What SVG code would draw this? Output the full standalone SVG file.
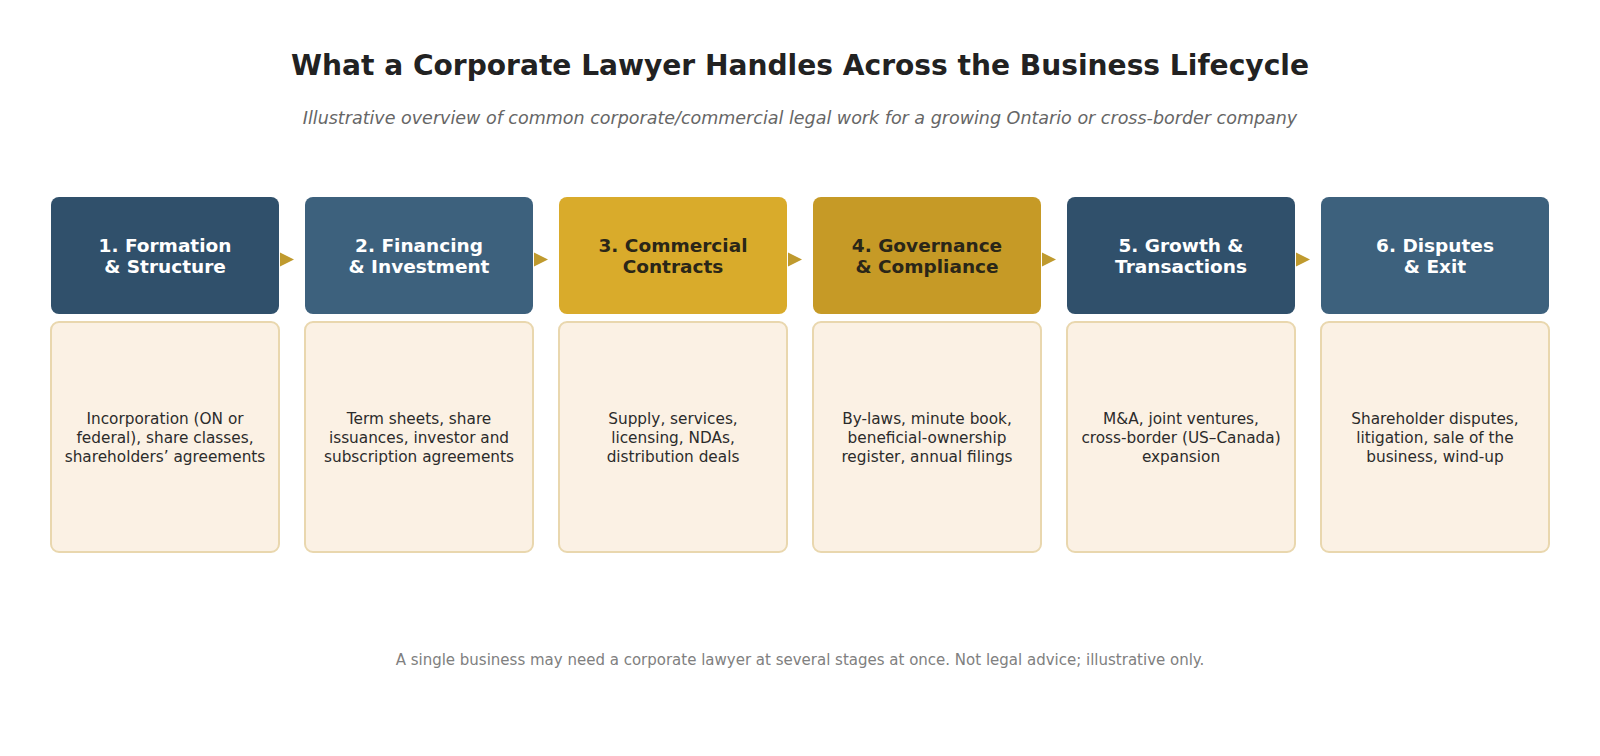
<svg xmlns="http://www.w3.org/2000/svg" width="1600" height="756" viewBox="0 0 1600 756">
<defs>
<style>
text{font-family:"DejaVu Sans","Liberation Sans",sans-serif;text-anchor:middle}
.title{font-size:28.1px;font-weight:bold;fill:#222222}
.sub{font-size:17.5px;font-style:italic;fill:#666666}
.foot{font-size:15px;fill:#808080}
.hd{font-size:18.5px;font-weight:bold}
.hw{fill:#ffffff}
.hk{fill:#2a2618}
.body{fill:#FBF1E4;stroke:#E9D7AE;stroke-width:2}
.bt{font-size:15.3px;fill:#2b2b2b}
.c1{fill:#30506B}
.c2{fill:#3D617D}
.c3{fill:#D9AB2B}
.c4{fill:#C69A26}
.arr{fill:#BF9A2E}
</style>
</defs>
<rect width="1600" height="756" fill="#ffffff"/>
<text class="title" x="800" y="75">What a Corporate Lawyer Handles Across the Business Lifecycle</text>
<text class="sub" x="800" y="124">Illustrative overview of common corporate/commercial legal work for a growing Ontario or cross-border company</text>

<g id="connectors">
<polygon class="arr" points="280,252.5 294,259.5 280,266.5"/>
<polygon class="arr" points="534,252.5 548,259.5 534,266.5"/>
<polygon class="arr" points="788,252.5 802,259.5 788,266.5"/>
<polygon class="arr" points="1042,252.5 1056,259.5 1042,266.5"/>
<polygon class="arr" points="1296,252.5 1310,259.5 1296,266.5"/>
</g>

<g id="stage1">
<rect class="c1" x="51" y="197" width="228" height="117" rx="8"/>
<text class="hd hw" x="165" y="251.5">1. Formation</text>
<text class="hd hw" x="165" y="273">&amp; Structure</text>
<rect class="body" x="51" y="322" width="228" height="230" rx="8"/>
<text class="bt" x="165" y="423.5">Incorporation (ON or</text>
<text class="bt" x="165" y="442.5">federal), share classes,</text>
<text class="bt" x="165" y="461.5">shareholders’ agreements</text>
</g>

<g id="stage2">
<rect class="c2" x="305" y="197" width="228" height="117" rx="8"/>
<text class="hd hw" x="419" y="251.5">2. Financing</text>
<text class="hd hw" x="419" y="273">&amp; Investment</text>
<rect class="body" x="305" y="322" width="228" height="230" rx="8"/>
<text class="bt" x="419" y="423.5">Term sheets, share</text>
<text class="bt" x="419" y="442.5">issuances, investor and</text>
<text class="bt" x="419" y="461.5">subscription agreements</text>
</g>

<g id="stage3">
<rect class="c3" x="559" y="197" width="228" height="117" rx="8"/>
<text class="hd hk" x="673" y="251.5">3. Commercial</text>
<text class="hd hk" x="673" y="273">Contracts</text>
<rect class="body" x="559" y="322" width="228" height="230" rx="8"/>
<text class="bt" x="673" y="423.5">Supply, services,</text>
<text class="bt" x="673" y="442.5">licensing, NDAs,</text>
<text class="bt" x="673" y="461.5">distribution deals</text>
</g>

<g id="stage4">
<rect class="c4" x="813" y="197" width="228" height="117" rx="8"/>
<text class="hd hk" x="927" y="251.5">4. Governance</text>
<text class="hd hk" x="927" y="273">&amp; Compliance</text>
<rect class="body" x="813" y="322" width="228" height="230" rx="8"/>
<text class="bt" x="927" y="423.5">By-laws, minute book,</text>
<text class="bt" x="927" y="442.5">beneficial-ownership</text>
<text class="bt" x="927" y="461.5">register, annual filings</text>
</g>

<g id="stage5">
<rect class="c1" x="1067" y="197" width="228" height="117" rx="8"/>
<text class="hd hw" x="1181" y="251.5">5. Growth &amp;</text>
<text class="hd hw" x="1181" y="273">Transactions</text>
<rect class="body" x="1067" y="322" width="228" height="230" rx="8"/>
<text class="bt" x="1181" y="423.5">M&amp;A, joint ventures,</text>
<text class="bt" x="1181" y="442.5">cross-border (US–Canada)</text>
<text class="bt" x="1181" y="461.5">expansion</text>
</g>

<g id="stage6">
<rect class="c2" x="1321" y="197" width="228" height="117" rx="8"/>
<text class="hd hw" x="1435" y="251.5">6. Disputes</text>
<text class="hd hw" x="1435" y="273">&amp; Exit</text>
<rect class="body" x="1321" y="322" width="228" height="230" rx="8"/>
<text class="bt" x="1435" y="423.5">Shareholder disputes,</text>
<text class="bt" x="1435" y="442.5">litigation, sale of the</text>
<text class="bt" x="1435" y="461.5">business, wind-up</text>
</g>

<text class="foot" x="800" y="665">A single business may need a corporate lawyer at several stages at once. Not legal advice; illustrative only.</text>
</svg>
